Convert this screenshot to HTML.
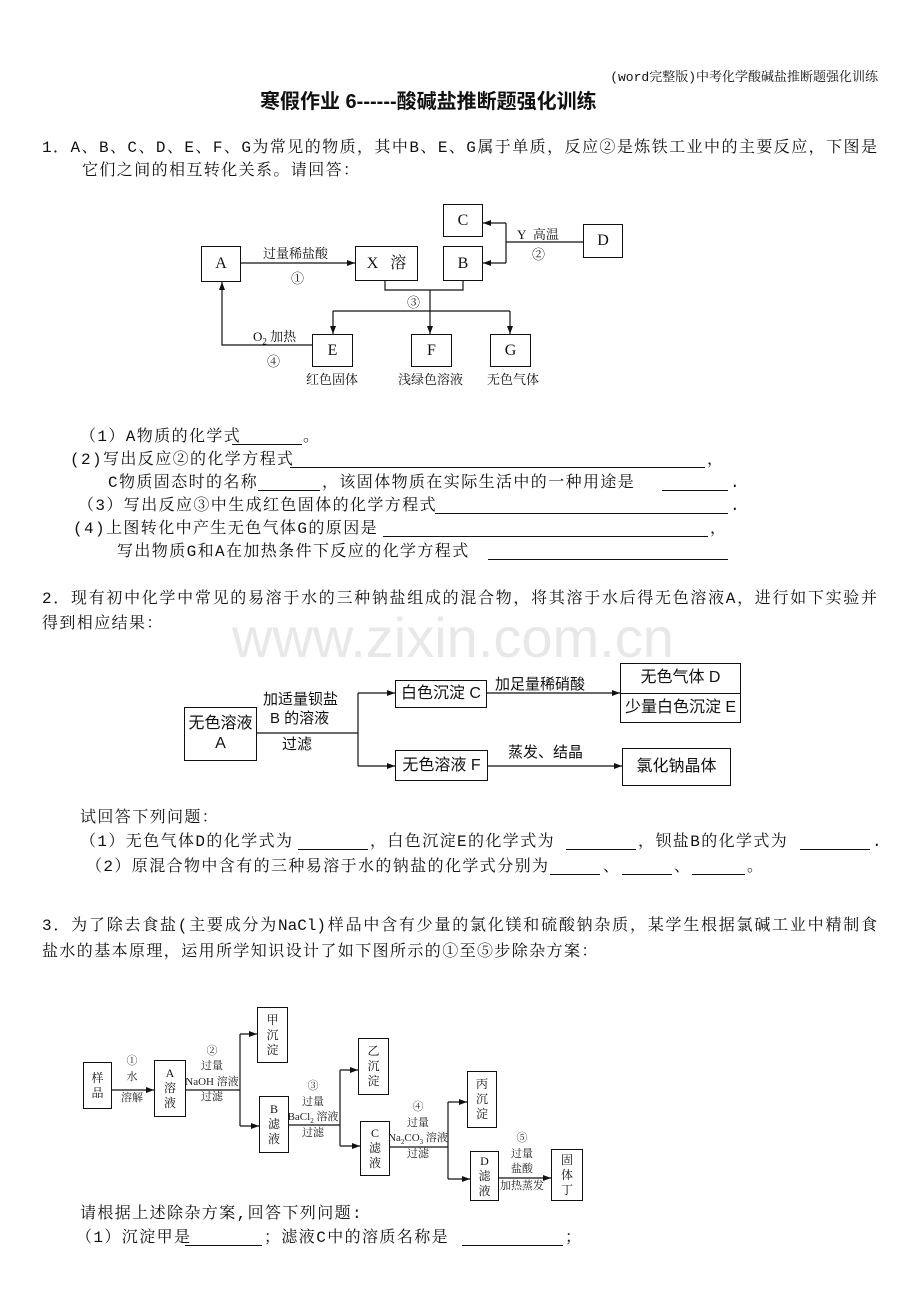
<!DOCTYPE html>
<html><head><meta charset="utf-8"><style>
body{margin:0;background:#fff;}
#p{position:relative;width:920px;height:1302px;overflow:hidden;font-family:"Liberation Mono","Noto Serif CJK SC",monospace;font-size:16px;color:#111;}
.t{position:absolute;white-space:nowrap;line-height:1;letter-spacing:1.4px;}
.j{position:absolute;white-space:nowrap;line-height:1;text-align:justify;text-align-last:justify;}
.u{position:absolute;height:0;border-top:1px solid #111;}
.b{position:absolute;border:1.3px solid #111;box-sizing:border-box;display:flex;align-items:center;justify-content:center;text-align:center;line-height:1.25;font-family:"Liberation Serif","Noto Serif CJK SC",serif;}
.s{font-family:"Liberation Sans","Noto Sans CJK SC",sans-serif;letter-spacing:0;}
.d{font-family:"Liberation Serif","Noto Serif CJK SC",serif;font-size:13px;letter-spacing:0;}
.e{font-family:"Liberation Serif","Noto Serif CJK SC",serif;font-size:11px;color:#222;letter-spacing:0;}
.c{transform:translateX(-50%);}
</style></head><body><div id="p">
<div class="t" style="right:42px;top:71px;font-size:13px;letter-spacing:0;">(word完整版)中考化学酸碱盐推断题强化训练</div>
<div class="t" style="left:260px;top:92px;font-size:20px;font-weight:bold;letter-spacing:0;font-family:'Liberation Sans','Noto Sans CJK SC',sans-serif;">寒假作业 6------酸碱盐推断题强化训练</div>
<div class="j" style="left:42px;top:140px;width:835px;">1．A、B、C、D、E、F、G为常见的物质，其中B、E、G属于单质，反应②是炼铁工业中的主要反应，下图是</div>
<div class="t" style="left:82px;top:163px;">它们之间的相互转化关系。请回答：</div>

<svg style="position:absolute;left:0;top:0" width="920" height="1302">
<defs><marker id="a" markerWidth="8" markerHeight="6" refX="8" refY="3" orient="auto" markerUnits="userSpaceOnUse"><path d="M0,0L8,3L0,6z" fill="#111"/></marker></defs>
<g stroke="#111" stroke-width="1.2" fill="none">
<line x1="240" y1="263" x2="355" y2="263" marker-end="url(#a)"/>
<line x1="583" y1="242" x2="506" y2="242"/>
<line x1="506" y1="223" x2="506" y2="263"/>
<line x1="506" y1="223" x2="483" y2="223" marker-end="url(#a)"/>
<line x1="506" y1="263" x2="483" y2="263" marker-end="url(#a)"/>
<polyline points="385,280 385,290 463,290 463,280"/>
<line x1="430" y1="290" x2="430" y2="334" marker-end="url(#a)"/>
<line x1="333" y1="311" x2="510" y2="311"/>
<line x1="333" y1="311" x2="333" y2="334" marker-end="url(#a)"/>
<line x1="510" y1="311" x2="510" y2="334" marker-end="url(#a)"/>
<polyline points="312,345 222,345 222,282" marker-end="url(#a)"/>
<line x1="256" y1="733" x2="358" y2="733"/>
<line x1="358" y1="693" x2="358" y2="766"/>
<line x1="358" y1="693" x2="395" y2="693" marker-end="url(#a)"/>
<line x1="358" y1="766" x2="395" y2="766" marker-end="url(#a)"/>
<line x1="486" y1="693" x2="620" y2="693" marker-end="url(#a)"/>
<line x1="487" y1="766" x2="622" y2="766" marker-end="url(#a)"/>
<line x1="111" y1="1090" x2="154" y2="1090" marker-end="url(#a)"/>
<line x1="185" y1="1090" x2="240" y2="1090"/>
<line x1="240" y1="1034" x2="240" y2="1126"/>
<line x1="240" y1="1034" x2="257" y2="1034" marker-end="url(#a)"/>
<line x1="240" y1="1126" x2="259" y2="1126" marker-end="url(#a)"/>
<line x1="288" y1="1125" x2="340" y2="1125"/>
<line x1="340" y1="1070" x2="340" y2="1146"/>
<line x1="340" y1="1070" x2="358" y2="1070" marker-end="url(#a)"/>
<line x1="340" y1="1146" x2="360" y2="1146" marker-end="url(#a)"/>
<line x1="389" y1="1147" x2="448" y2="1147"/>
<line x1="448" y1="1102" x2="448" y2="1179"/>
<line x1="448" y1="1102" x2="467" y2="1102" marker-end="url(#a)"/>
<line x1="448" y1="1179" x2="470" y2="1179" marker-end="url(#a)"/>
<line x1="498" y1="1178" x2="551" y2="1178" marker-end="url(#a)"/>
</g></svg>
<div class="b" style="left:201px;top:246px;width:40px;height:36px;">A</div>
<div class="b" style="left:355px;top:246px;width:63px;height:35px;">X&nbsp;&nbsp;&nbsp;溶</div>
<div class="b" style="left:443px;top:246px;width:40px;height:35px;">B</div>
<div class="b" style="left:443px;top:204px;width:40px;height:33px;">C</div>
<div class="b" style="left:583px;top:224px;width:40px;height:34px;">D</div>
<div class="b" style="left:312px;top:334px;width:41px;height:33px;">E</div>
<div class="b" style="left:411px;top:334px;width:41px;height:33px;">F</div>
<div class="b" style="left:490px;top:334px;width:41px;height:33px;">G</div>
<div class="t d" style="left:263px;top:247px;">过量稀盐酸</div>
<div class="t d" style="left:291px;top:272px;">①</div>
<div class="t d" style="left:517px;top:228px;">Y&nbsp; 高温</div>
<div class="t d" style="left:532px;top:248px;">②</div>
<div class="t d" style="left:407px;top:296px;">③</div>
<div class="t d" style="left:253px;top:330px;">O<sub style="font-size:9px">2</sub> 加热</div>
<div class="t d" style="left:267px;top:355px;">④</div>
<div class="t d" style="left:306px;top:373px;">红色固体</div>
<div class="t d" style="left:398px;top:373px;">浅绿色溶液</div>
<div class="t d" style="left:487px;top:373px;">无色气体</div>

<div class="t" style="left:80px;top:429px;">（1）A物质的化学式</div><div class="u" style="left:232px;width:70px;top:444px"></div><div class="t" style="left:303px;top:429px;">。</div>
<div class="t" style="left:70px;top:452px;">(2)写出反应②的化学方程式</div><div class="u" style="left:290px;width:415px;top:467px"></div><div class="t" style="left:707px;top:452px;">，</div>
<div class="t" style="left:108px;top:475px;">C物质固态时的名称</div><div class="u" style="left:258px;width:62px;top:490px"></div><div class="t" style="left:322px;top:475px;">，该固体物质在实际生活中的一种用途是</div><div class="u" style="left:662px;width:66px;top:490px"></div><div class="t" style="left:730px;top:475px;">.</div>
<div class="t" style="left:78px;top:498px;">（3）写出反应③中生成红色固体的化学方程式</div><div class="u" style="left:435px;width:293px;top:513px"></div><div class="t" style="left:730px;top:498px;">.</div>
<div class="t" style="left:73px;top:521px;">(4)上图转化中产生无色气体G的原因是</div><div class="u" style="left:383px;width:325px;top:536px"></div><div class="t" style="left:710px;top:521px;">，</div>
<div class="t" style="left:117px;top:544px;">写出物质G和A在加热条件下反应的化学方程式</div><div class="u" style="left:488px;width:240px;top:559px"></div>

<div class="j" style="left:42px;top:591px;width:835px;">2．现有初中化学中常见的易溶于水的三种钠盐组成的混合物，将其溶于水后得无色溶液A，进行如下实验并</div>
<div class="t" style="left:42px;top:616px;">得到相应结果：</div>
<div class="t s" style="left:232px;top:610px;font-size:56px;color:#e8e8e8;">www.zixin.com.cn</div>

<div class="b s" style="left:184px;top:707px;width:73px;height:54px;">无色溶液<br>A</div>
<div class="b s" style="left:395px;top:680px;width:92px;height:28px;">白色沉淀 C</div>
<div class="b s" style="left:395px;top:750px;width:93px;height:31px;">无色溶液 F</div>
<div class="b s" style="left:620px;top:663px;width:121px;height:60px;flex-direction:column;font-family:'Liberation Sans','Noto Sans CJK SC',sans-serif;"><div style="height:29px;width:100%;border-bottom:1.3px solid #111;display:flex;align-items:center;justify-content:center;">无色气体 D</div><div style="height:29px;display:flex;align-items:center;justify-content:center;">少量白色沉淀 E</div></div>
<div class="b s" style="left:622px;top:748px;width:109px;height:38px;">氯化钠晶体</div>
<div class="t s" style="left:263px;top:692px;font-size:15px;">加适量钡盐</div>
<div class="t s" style="left:270px;top:711px;font-size:15px;">B 的溶液</div>
<div class="t s" style="left:282px;top:737px;font-size:15px;">过滤</div>
<div class="t s" style="left:495px;top:677px;font-size:15px;">加足量稀硝酸</div>
<div class="t s" style="left:508px;top:745px;font-size:15px;">蒸发、结晶</div>

<div class="t" style="left:80px;top:810px;">试回答下列问题：</div>
<div class="t" style="left:80px;top:834px;">（1）无色气体D的化学式为</div><div class="u" style="left:298px;width:70px;top:849px"></div><div class="t" style="left:370px;top:834px;">，白色沉淀E的化学式为</div><div class="u" style="left:566px;width:70px;top:849px"></div><div class="t" style="left:638px;top:834px;">，钡盐B的化学式为</div><div class="u" style="left:800px;width:70px;top:849px"></div><div class="t" style="left:872px;top:834px;">.</div>
<div class="t" style="left:86px;top:859px;">（2）原混合物中含有的三种易溶于水的钠盐的化学式分别为</div><div class="u" style="left:550px;width:50px;top:874px"></div><div class="t" style="left:603px;top:859px;">、</div><div class="u" style="left:622px;width:50px;top:874px"></div><div class="t" style="left:674px;top:859px;">、</div><div class="u" style="left:692px;width:53px;top:874px"></div><div class="t" style="left:747px;top:859px;">。</div>

<div class="j" style="left:42px;top:918px;width:835px;">3．为了除去食盐(主要成分为NaCl)样品中含有少量的氯化镁和硫酸钠杂质，某学生根据氯碱工业中精制食</div>
<div class="t" style="left:42px;top:944px;">盐水的基本原理，运用所学知识设计了如下图所示的①至⑤步除杂方案：</div>

<div style="font-size:12px;">
<div class="b" style="left:83px;top:1062px;width:29px;height:47px;font-size:12px;">样<br>品</div>
<div class="b" style="left:154px;top:1060px;width:32px;height:57px;font-size:12px;">A<br>溶<br>液</div>
<div class="b" style="left:257px;top:1007px;width:31px;height:56px;font-size:12px;">甲<br>沉<br>淀</div>
<div class="b" style="left:259px;top:1096px;width:30px;height:57px;font-size:12px;">B<br>滤<br>液</div>
<div class="b" style="left:358px;top:1038px;width:31px;height:57px;font-size:12px;">乙<br>沉<br>淀</div>
<div class="b" style="left:360px;top:1121px;width:30px;height:55px;font-size:12px;">C<br>滤<br>液</div>
<div class="b" style="left:467px;top:1071px;width:30px;height:57px;font-size:12px;">丙<br>沉<br>淀</div>
<div class="b" style="left:470px;top:1151px;width:29px;height:50px;font-size:12px;">D<br>滤<br>液</div>
<div class="b" style="left:551px;top:1149px;width:32px;height:52px;font-size:12px;">固<br>体<br>丁</div>
<div class="t e c" style="left:132px;top:1056px;">①</div>
<div class="t e c" style="left:132px;top:1072px;">水</div>
<div class="t e c" style="left:132px;top:1093px;">溶解</div>
<div class="t e c" style="left:212px;top:1046px;">②</div>
<div class="t e c" style="left:212px;top:1061px;">过量</div>
<div class="t e c" style="left:212px;top:1077px;">NaOH 溶液</div>
<div class="t e c" style="left:212px;top:1092px;">过滤</div>
<div class="t e c" style="left:313px;top:1081px;">③</div>
<div class="t e c" style="left:313px;top:1097px;">过量</div>
<div class="t e c" style="left:313px;top:1112px;">BaCl<sub style="font-size:7px">2</sub> 溶液</div>
<div class="t e c" style="left:313px;top:1128px;">过滤</div>
<div class="t e c" style="left:418px;top:1102px;">④</div>
<div class="t e c" style="left:418px;top:1118px;">过量</div>
<div class="t e c" style="left:418px;top:1133px;">Na<sub style="font-size:7px">2</sub>CO<sub style="font-size:7px">3</sub> 溶液</div>
<div class="t e c" style="left:418px;top:1149px;">过滤</div>
<div class="t e c" style="left:522px;top:1133px;">⑤</div>
<div class="t e c" style="left:522px;top:1149px;">过量</div>
<div class="t e c" style="left:522px;top:1164px;">盐酸</div>
<div class="t e c" style="left:522px;top:1181px;">加热蒸发</div>
</div>

<div class="t" style="left:80px;top:1206px;">请根据上述除杂方案,回答下列问题:</div>
<div class="t" style="left:76px;top:1230px;">（1）沉淀甲是</div><div class="u" style="left:185px;width:77px;top:1245px"></div><div class="t" style="left:264px;top:1230px;">；滤液C中的溶质名称是</div><div class="u" style="left:462px;width:101px;top:1245px"></div><div class="t" style="left:565px;top:1230px;">；</div>
</div></body></html>
